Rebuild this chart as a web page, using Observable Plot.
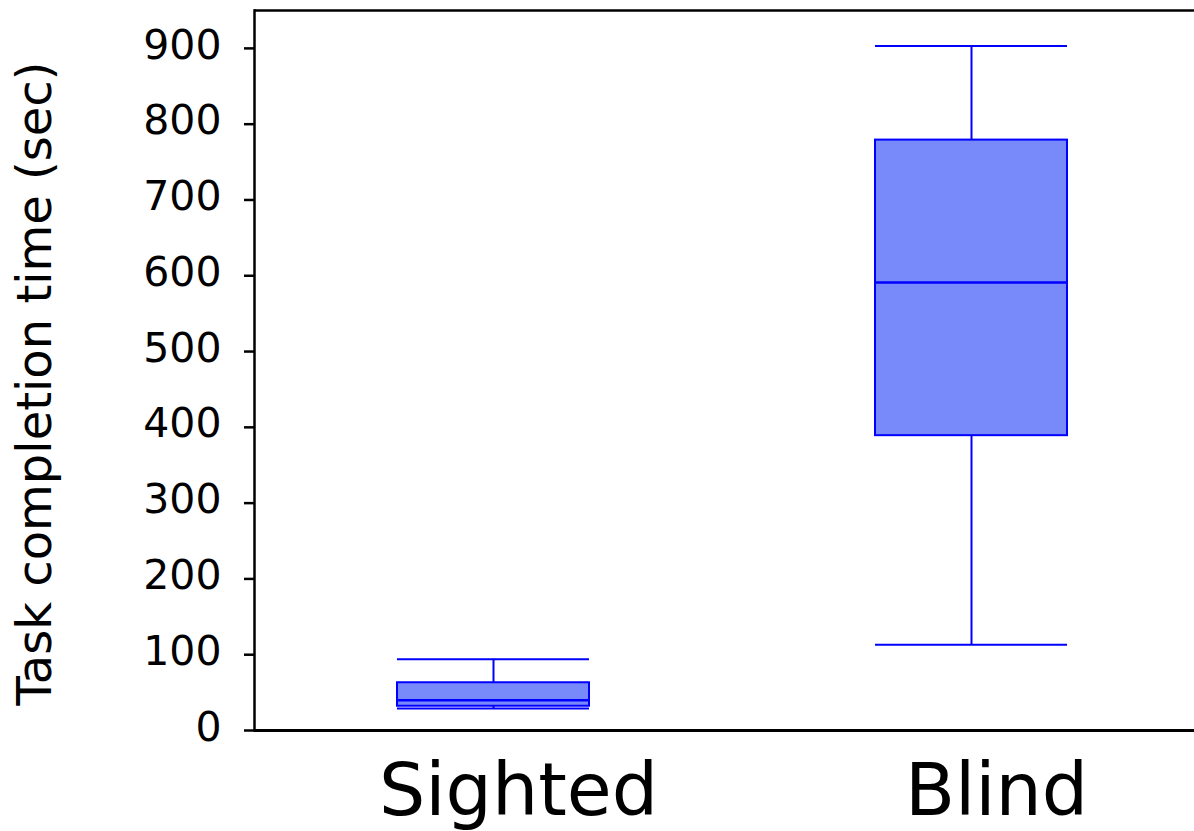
<!DOCTYPE html>
<html>
<head>
<meta charset="utf-8">
<script src="https://cdn.jsdelivr.net/npm/d3@7"></script>
<script src="https://cdn.jsdelivr.net/npm/@observablehq/plot@0.6"></script>
<style>
  html, body { margin: 0; padding: 0; background: #fff; }
  #chart svg { display: block; }
</style>
</head>
<body>
<div id="chart"></div>
<script>
// Data (summary statistics)
const groups = ["Sighted", "Blind"];
const whiskerLow = [29, 113];
const q1 = [32, 389];
const median = [40, 591];
const q3 = [63, 779];
const whiskerHigh = [94, 903];
const yTicks = [0, 100, 200, 300, 400, 500, 600, 700, 800, 900];
const yLabel = "Task completion time (sec)";

const rows = groups.map((g, i) => ({
  group: g, low: whiskerLow[i], q1: q1[i], median: median[i], q3: q3[i], high: whiskerHigh[i]
}));

const boxFill = "#7889fa";
const boxStroke = "#0000ff";

const chart = Plot.plot({
  width: 1194,
  height: 831,
  marginTop: 10,
  marginBottom: 101,
  marginLeft: 254,
  marginRight: 0,
  style: { fontFamily: "DejaVu Sans", background: "#fff", color: "#000" },
  x: { domain: groups, range: [254, 1210], paddingInner: 0.598, paddingOuter: 0.299, axis: null },
  y: { domain: [0, 950], axis: null },
  marks: [
    // whiskers
    Plot.ruleX(rows, { x: "group", y1: "low", y2: "high", stroke: boxStroke, strokeWidth: 2 }),
    Plot.tickY(rows, { x: "group", y: "low", stroke: boxStroke, strokeWidth: 2 }),
    Plot.tickY(rows, { x: "group", y: "high", stroke: boxStroke, strokeWidth: 2 }),
    // boxes
    Plot.barY(rows, { x: "group", y1: "q1", y2: "q3", fill: boxFill, stroke: boxStroke, strokeWidth: 2 }),
    // medians
    Plot.tickY(rows, { x: "group", y: "median", stroke: boxStroke, strokeWidth: 2.5 }),
    // axes
    Plot.axisY({ ticks: yTicks, tickSize: 10, text: null, label: null, strokeWidth: 2.5 }),
    Plot.axisY({ ticks: yTicks, tickSize: 0, tickPadding: 33, fontSize: 41, dy: -3, label: null }),
    Plot.axisX({ tickSize: 0, tickPadding: 33, fontSize: 73, label: null, dx: 25 }),
    // frame lines: top, left, bottom
    Plot.ruleY([950], { stroke: "#000", strokeWidth: 2.5 }),
    Plot.ruleY([0], { stroke: "#000", strokeWidth: 3 }),
    Plot.frame({ anchor: "left", stroke: "#000", strokeWidth: 2.5 }),
    // y title
    Plot.text([yLabel], { frameAnchor: "left", textAnchor: "middle", rotate: -90, dx: -219, dy: 13, fontSize: 48, fill: "#000" })
  ]
});
document.getElementById("chart").appendChild(chart);
</script>
</body>
</html>
